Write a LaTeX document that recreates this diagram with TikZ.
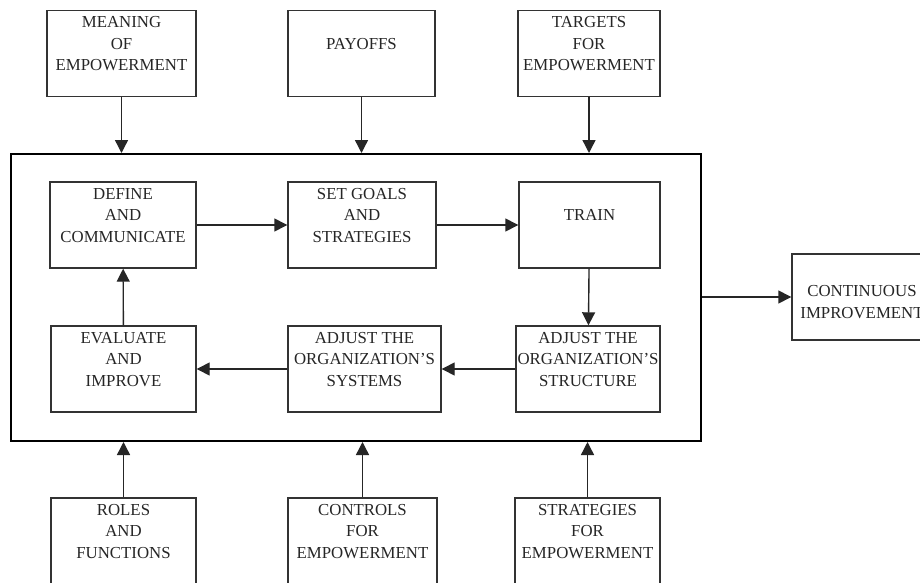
\documentclass[tikz,border=0pt]{standalone}
\usepackage{fontspec}
\setmainfont{Liberation Serif}
\usetikzlibrary{arrows.meta}
\begin{document}
\begin{tikzpicture}[x=1pt,y=-1pt,
  box/.style={draw=black!80,line width=1.4pt,rectangle,inner sep=0pt,align=center,
    minimum height=86pt,font=\fontsize{16.8}{21.5}\selectfont,text=black!85},
  frame/.style={draw=black,line width=2pt},
  arr/.style={line width=1.4pt,draw=black!85,-{Triangle[length=13pt,width=13pt]}}]
\clip (0,0) rectangle (920,583);
\fill[white] (0,0) rectangle (920,583);
% top inputs
\node[box,minimum width=149pt] (mean) at (121.5,53.5) {MEANING\\OF\\EMPOWERMENT\\[-2pt]~};
\node[box,minimum width=147pt] (pay) at (361.5,53.5) {PAYOFFS\\[-2pt]~};
\node[box,minimum width=142pt] (targ) at (589,53.5) {TARGETS\\FOR\\EMPOWERMENT\\[-2pt]~};
% frame
\node[frame,rectangle,inner sep=0pt,minimum width=690pt,minimum height=287pt] (fr) at (356,297.5) {};
% inner row 1
\node[box,minimum width=146pt] (def) at (123,225) {DEFINE\\AND\\COMMUNICATE\\[-2pt]~};
\node[box,minimum width=148pt] (set) at (362,225) {SET GOALS\\AND\\STRATEGIES\\[-2pt]~};
\node[box,minimum width=141pt] (train) at (589.5,225) {TRAIN\\[-2pt]~};
% inner row 2
\node[box,minimum width=145pt] (eval) at (123.5,369) {EVALUATE\\AND\\IMPROVE\\[-2pt]~};
\node[box,minimum width=153pt] (sys) at (364.5,369) {ADJUST THE\\ORGANIZATION'S\\SYSTEMS\\[-2pt]~};
\node[box,minimum width=144pt] (str) at (588,369) {ADJUST THE\\ORGANIZATION'S\\STRUCTURE\\[-2pt]~};
% bottom inputs
\node[box,minimum width=145pt] (roles) at (123.5,541) {ROLES\\AND\\FUNCTIONS\\[-2pt]~};
\node[box,minimum width=149pt] (ctrl) at (362.5,541) {CONTROLS\\FOR\\EMPOWERMENT\\[-2pt]~};
\node[box,minimum width=145pt] (strat) at (587.5,541) {STRATEGIES\\FOR\\EMPOWERMENT\\[-2pt]~};
% output
\node[box,minimum width=140pt] (cont) at (862,297) {\\[-0pt]CONTINUOUS\\IMPROVEMENT};
% connectors
\draw[arr] (mean.south) -- (mean.south |- fr.north);
\draw[arr] (pay.south) -- (pay.south |- fr.north);
\draw[arr] (targ.south) -- (targ.south |- fr.north);
\draw[arr] (roles.north) -- (roles.north |- fr.south);
\draw[arr] (ctrl.north) -- (ctrl.north |- fr.south);
\draw[arr] (strat.north) -- (strat.north |- fr.south);
\draw[arr] (def) -- (set);
\draw[arr] (set) -- (train);
\draw[arr] (train) -- (str);
\draw[arr] (str) -- (sys);
\draw[arr] (sys) -- (eval);
\draw[arr] (eval) -- (def);
\draw[arr] (fr.east |- cont.west) -- (cont.west);
\end{tikzpicture}
\end{document}
